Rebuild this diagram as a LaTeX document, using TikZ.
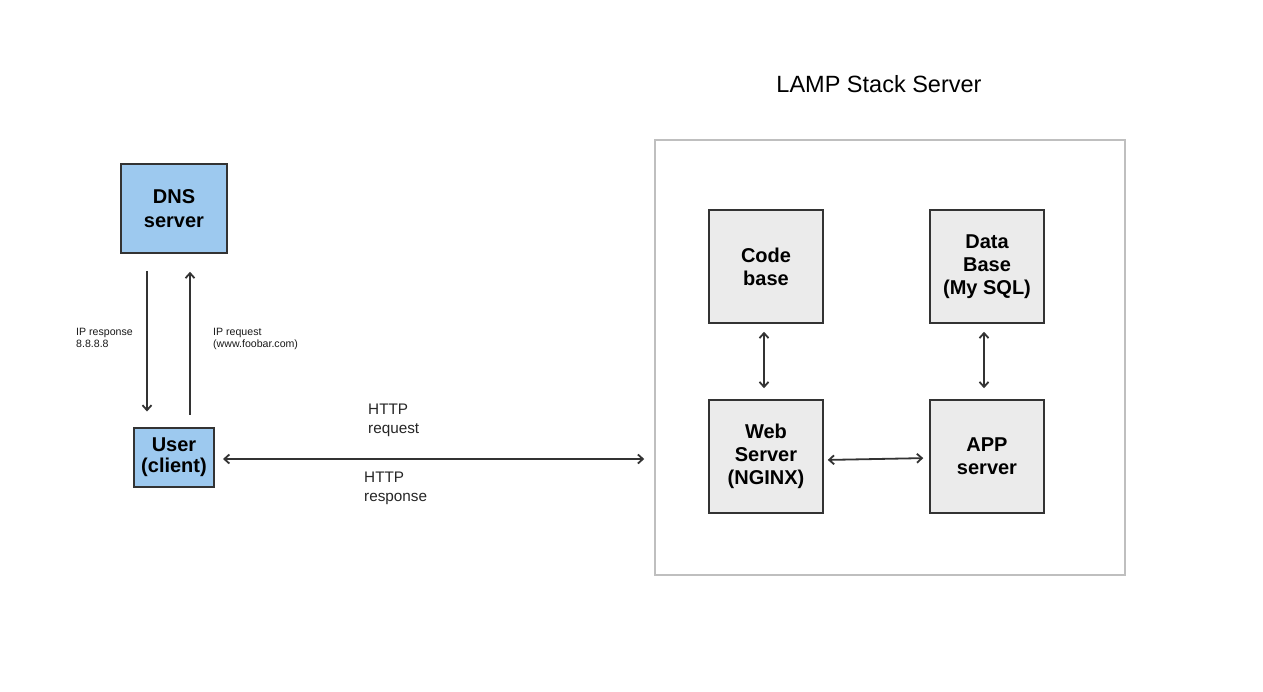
\documentclass[tikz,border=0pt]{standalone}
\usepackage{fontspec}
\setmainfont{Liberation Sans}
\usetikzlibrary{arrows.meta}
\definecolor{boxblue}{HTML}{9DC9EF}
\definecolor{boxgray}{HTML}{EBEBEB}
\definecolor{linecol}{HTML}{333333}
\definecolor{outercol}{HTML}{BFBFBF}
\tikzset{
  bluebox/.style={draw=linecol, line width=1.6pt, fill=boxblue, inner sep=0pt, align=center,
    font=\fontsize{20}{23.5}\selectfont\bfseries},
  graybox/.style={draw=linecol, line width=1.5pt, fill=boxgray, inner sep=0pt, align=center,
    minimum width=114pt, minimum height=113pt, font=\fontsize{20}{23}\selectfont\bfseries},
  outerbox/.style={draw=outercol, line width=1.5pt, inner sep=0pt},
  arr/.style={draw=linecol, line width=1.8pt, -{Straight Barb[length=5pt,width=9pt]}},
  darr/.style={draw=linecol, line width=1.8pt, {Straight Barb[length=5pt,width=9pt]}-{Straight Barb[length=5pt,width=9pt]}},
  smalllabel/.style={align=left, inner sep=0pt, anchor=west, font=\fontsize{10.6}{12.5}\selectfont, text=black!90},
  httplabel/.style={align=left, inner sep=0pt, anchor=west, font=\fontsize{15.3}{19}\selectfont, text=black!85},
}
\begin{document}
\begin{tikzpicture}[x=1pt,y=-1pt]
\useasboundingbox[fill=white] (0,0) rectangle (1263,691);
% left side
\node[bluebox, minimum width=106pt, minimum height=89pt] (dns) at (174,208.5) {DNS\\server};
\node[bluebox, line width=2pt, minimum width=80pt, minimum height=59pt, font=\fontsize{20}{21.5}\selectfont\bfseries] (user) at (174,457) {User\\(client)};
% LAMP server
\node[font=\fontsize{23.5}{26}\selectfont, inner sep=0pt] (title) at (879,84) {LAMP Stack Server};
\node[outerbox, minimum width=470pt, minimum height=435pt] (lamp) at (890,357.5) {};
\node[graybox] (code) at (766,266.5) {Code\\ base};
\node[graybox] (db) at (987,266.5) {Data\\ Base\\(My SQL)};
\node[graybox] (web) at (766,456.5) {Web\\ Server\\(NGINX)};
\node[graybox] (app) at (987,456.5) {APP\\ server};
% DNS arrows
\draw[arr, shorten <=17pt, shorten >=15pt] ([xshift=-27pt]dns.south) -- ([xshift=-27pt]user.north);
\draw[arr, shorten <=12pt, shorten >=18pt] ([xshift=16pt]user.north) -- ([xshift=16pt]dns.south);
\node[smalllabel] (iprsp) at (76,338) {IP response\\8.8.8.8};
\node[smalllabel] (ipreq) at (213,339) {IP request\\(www.foobar.com)};
% HTTP
\draw[darr, shorten <=8pt, shorten >=10pt] ([yshift=-2pt]user.east) -- ([yshift=-2pt]user.east -| lamp.west);
\node[httplabel] (httpreq) at (368,420) {HTTP\\request};
\node[httplabel] (httprsp) at (364,488) {HTTP\\response};
% internal arrows
\draw[darr, shorten <=8pt, shorten >=11pt] ([xshift=-2pt]code.south) -- ([xshift=-2pt]web.north);
\draw[darr, shorten <=8pt, shorten >=11pt] ([xshift=-3pt]db.south) -- ([xshift=-3pt]app.north);
\draw[darr, shorten <=4pt, shorten >=6pt] ([yshift=-3.5pt]web.east) -- ([yshift=-1.5pt]app.west);
\end{tikzpicture}
\end{document}
